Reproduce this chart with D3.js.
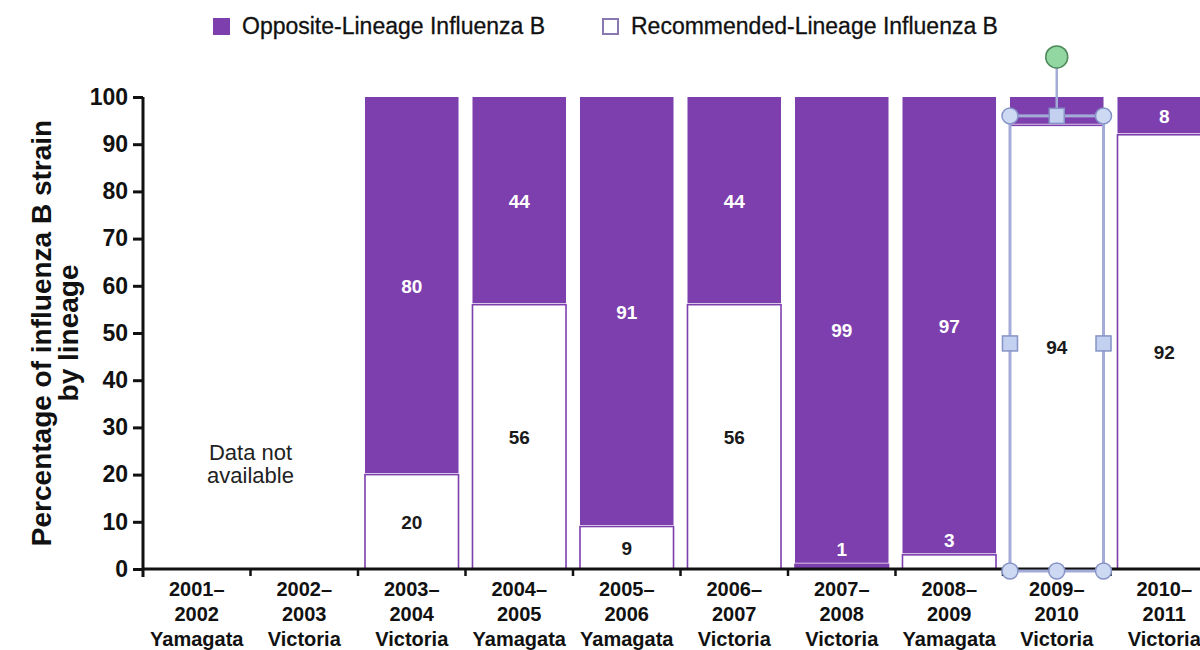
<!DOCTYPE html>
<html>
<head>
<meta charset="utf-8">
<script src="https://cdn.jsdelivr.net/npm/d3@7/dist/d3.min.js"></script>
<style>
  html, body { margin: 0; padding: 0; background: #fff; }
  svg { display: block; font-family: "Liberation Sans", Arial, Helvetica, sans-serif; }
</style>
</head>
<body>
<svg id="chart" width="1200" height="650"></svg>
<script>
// Influenza B season, split into the two label lines
const seasonStart = ["2001–", "2002–", "2003–", "2004–", "2005–", "2006–", "2007–", "2008–", "2009–", "2010–"];
const seasonEnd = ["2002", "2003", "2004", "2005", "2006", "2007", "2008", "2009", "2010", "2011"];
// Lineage recommended for the vaccine in each season
const vaccineLineage = ["Yamagata", "Victoria", "Victoria", "Yamagata", "Yamagata", "Victoria", "Victoria", "Yamagata", "Victoria", "Victoria"];
// Percentage of circulating influenza B by lineage (null = no data)
const recommended = [null, null, 20, 56, 9, 56, 1, 3, 94, 92];
const opposite = [null, null, 80, 44, 91, 44, 99, 97, 6, 8];
// Which values carry a printed label
const showOppositeLabel = [false, false, true, true, true, true, true, true, false, true];
const yTicks = [0, 10, 20, 30, 40, 50, 60, 70, 80, 90, 100];
const seriesNames = ["Opposite-Lineage Influenza B", "Recommended-Lineage Influenza B"];

const PURPLE = "#7e3fae";
const seasons = seasonEnd.map((d, i) => seasonStart[i] + d);
const rows = seasons.map((s, i) => ({
  season: s, start: seasonStart[i], end: seasonEnd[i], lineage: vaccineLineage[i],
  rec: recommended[i], opp: opposite[i], showOpp: showOppositeLabel[i], i
}));

const svg = d3.select("#chart");

const x = d3.scaleBand()
  .domain(seasons)
  .range([143, 1218])
  .paddingInner(0.13)
  .paddingOuter(0.065);

const y = d3.scaleLinear().domain([0, 100]).range([569, 97]);

// Bars
const data = rows.filter(d => d.rec !== null);
const bars = svg.append("g");

// Recommended lineage: white segment from the baseline
bars.selectAll("rect.rec").data(data).join("rect")
  .attr("class", "rec")
  .attr("x", d => x(d.season))
  .attr("width", x.bandwidth())
  .attr("y", d => y(d.rec))
  .attr("height", d => y(0) - y(d.rec))
  .attr("fill", d => d.rec < 2 ? PURPLE : "#fff")
  .attr("stroke", PURPLE)
  .attr("stroke-width", 1.6);

// Opposite lineage: purple segment stacked on top
bars.selectAll("rect.opp").data(data).join("rect")
  .attr("class", "opp")
  .attr("x", d => x(d.season))
  .attr("width", x.bandwidth())
  .attr("y", d => y(d.rec + d.opp))
  .attr("height", d => y(d.rec) - y(d.rec + d.opp) - 1.5)
  .attr("fill", PURPLE);

// Value labels
const labels = svg.append("g")
  .attr("font-size", 19)
  .attr("font-weight", "bold")
  .attr("text-anchor", "middle");

labels.selectAll("text.opp").data(data.filter(d => d.showOpp)).join("text")
  .attr("x", d => x(d.season) + x.bandwidth() / 2)
  .attr("y", d => (y(d.rec) + y(d.rec + d.opp)) / 2)
  .attr("dy", "0.36em")
  .attr("fill", "#fff")
  .text(d => d.opp);

labels.selectAll("text.rec").data(data).join("text")
  .attr("x", d => x(d.season) + x.bandwidth() / 2)
  .attr("y", d => d.rec >= 5 ? (y(d.rec) + y(0)) / 2 : y(d.rec) - 15)
  .attr("dy", "0.36em")
  .attr("fill", d => d.rec >= 5 ? "#1a1a1a" : "#fff")
  .text(d => d.rec);

// Seasons without data
const missing = rows.filter(d => d.rec === null);
const missCx = d3.mean(missing, d => x(d.season) + x.bandwidth() / 2);
const missText = svg.append("text")
  .attr("x", missCx)
  .attr("y", y(25))
  .attr("text-anchor", "middle")
  .attr("font-size", 22)
  .attr("fill", "#222");
missText.append("tspan").attr("x", missCx).attr("dy", "0.4em").text("Data not");
missText.append("tspan").attr("x", missCx).attr("dy", 23).text("available");

// Y axis
const yAxis = svg.append("g")
  .attr("transform", "translate(143,0)")
  .call(d3.axisLeft(y).tickValues(yTicks).tickSize(10).tickSizeOuter(0).tickPadding(5));
yAxis.select(".domain").attr("stroke", "#111").attr("stroke-width", 3)
  .attr("d", `M0,${y(100)}V${y(0) + 8}`);
yAxis.selectAll(".tick line").attr("stroke", "#111").attr("stroke-width", 3);
yAxis.selectAll(".tick text")
  .attr("font-size", 23).attr("font-weight", "bold").attr("fill", "#111")
  .attr("font-family", "'Liberation Sans', Arial, sans-serif");

// X axis: baseline with ticks at band boundaries
const xAxisG = svg.append("g");
xAxisG.append("line")
  .attr("x1", 143).attr("x2", 1220)
  .attr("y1", y(0)).attr("y2", y(0))
  .attr("stroke", "#111").attr("stroke-width", 3);
const boundaries = seasons.map(s => x(s) - x.step() * x.paddingInner() / 2);
xAxisG.selectAll("line.tk").data(boundaries.slice(1)).join("line")
  .attr("class", "tk")
  .attr("x1", d => d).attr("x2", d => d)
  .attr("y1", y(0)).attr("y2", y(0) + 7)
  .attr("stroke", "#111").attr("stroke-width", 2.5);

// Category labels
const catG = svg.append("g")
  .attr("font-size", 20)
  .attr("font-weight", "bold")
  .attr("text-anchor", "middle")
  .attr("fill", "#111");
const cat = catG.selectAll("text").data(rows).join("text")
  .attr("x", d => x(d.season) + x.bandwidth() / 2)
  .attr("y", 596);
cat.append("tspan").attr("x", d => x(d.season) + x.bandwidth() / 2).text(d => d.start);
cat.append("tspan").attr("x", d => x(d.season) + x.bandwidth() / 2).attr("dy", 25).text(d => d.end);
cat.append("tspan").attr("x", d => x(d.season) + x.bandwidth() / 2).attr("dy", 24.5).text(d => d.lineage);

// Y axis title
const yTitle = svg.append("g")
  .attr("transform", `translate(51,${(y(0) + y(100)) / 2})rotate(-90)`)
  .attr("font-size", 28)
  .attr("font-weight", "bold")
  .attr("text-anchor", "middle")
  .attr("fill", "#111");
yTitle.append("text").attr("y", 0).text("Percentage of influenza B strain");
yTitle.append("text").attr("y", 27).text("by lineage");

// Legend
const legend = svg.append("g").attr("font-size", 23).attr("fill", "#111");
const legendX = [213, 602];
seriesNames.forEach((name, i) => {
  legend.append("rect")
    .attr("x", legendX[i] + (i ? 1 : 0)).attr("y", 18 + (i ? 1 : 0))
    .attr("width", i ? 15 : 17).attr("height", i ? 15 : 17)
    .attr("fill", i ? "#fff" : PURPLE)
    .attr("stroke", i ? "#8a78b0" : "none")
    .attr("stroke-width", 2);
  legend.append("text")
    .attr("x", legendX[i] + 29).attr("y", 26)
    .attr("dy", "0.36em")
    .attr("stroke", "#111").attr("stroke-width", 0.3)
    .text(name);
});

// Selection frame around the 2009–2010 bar
const sel = rows[8];
const sx0 = x(sel.season), sx1 = sx0 + x.bandwidth();
const sy0 = y(96), sy1 = y(0) + 2;
const sxm = (sx0 + sx1) / 2, sym = (sy0 + sy1) / 2;
const handles = svg.append("g");
handles.append("rect")
  .attr("x", sx0).attr("y", sy0).attr("width", sx1 - sx0).attr("height", sy1 - sy0)
  .attr("fill", "none").attr("stroke", "#a3acd9").attr("stroke-width", 3);
handles.append("line")
  .attr("x1", sxm).attr("x2", sxm).attr("y1", sy0 - 59).attr("y2", sy0)
  .attr("stroke", "#a3acd9").attr("stroke-width", 2.5);
const corners = [[sx0, sy0], [sx1, sy0], [sx0, sy1], [sx1, sy1], [sxm, sy1]];
handles.selectAll("circle.c").data(corners).join("circle")
  .attr("cx", d => d[0]).attr("cy", d => d[1]).attr("r", 8)
  .attr("fill", "#cdd8f2").attr("stroke", "#8593c6").attr("stroke-width", 1.5);
const squares = [[sxm, sy0], [sx0, sym], [sx1, sym]];
handles.selectAll("rect.s").data(squares).join("rect")
  .attr("x", d => d[0] - 7.5).attr("y", d => d[1] - 7.5)
  .attr("width", 15).attr("height", 15)
  .attr("fill", "#c4d0f0").attr("stroke", "#8593c6").attr("stroke-width", 1.5);
handles.append("circle")
  .attr("cx", sxm).attr("cy", sy0 - 59).attr("r", 11)
  .attr("fill", "#92d6a2").attr("stroke", "#4e8a5c").attr("stroke-width", 1.5);
</script>
</body>
</html>
